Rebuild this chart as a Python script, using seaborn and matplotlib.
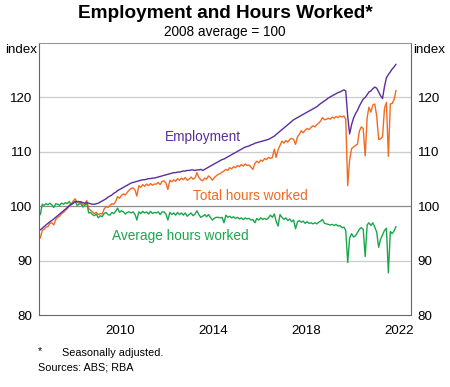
import numpy as np
import pandas as pd
import matplotlib
matplotlib.use("Agg")
import matplotlib.pyplot as plt
import matplotlib.dates as mdates
import seaborn as sns

# Monthly data, Jan 2007 - May 2022 (index, 2008 average = 100)
employment = [
    95.7, 96.0, 96.3, 96.6, 96.9, 97.2, 97.4, 97.7, 98.0, 98.3, 98.6, 98.9,
    99.2, 99.5, 99.8, 100.1, 100.4, 100.6, 100.8, 100.9, 100.9, 100.8, 100.7, 100.6,
    100.7, 100.6, 100.5, 100.4, 100.4, 100.5, 100.6, 100.8, 101.0, 101.2, 101.4, 101.7,
    101.9, 102.1, 102.4, 102.6, 102.9, 103.1, 103.3, 103.5, 103.7, 103.9, 104.1, 104.3,
    104.4, 104.5, 104.6, 104.7, 104.8, 104.9, 104.9, 105.0, 105.1, 105.1, 105.2, 105.2,
    105.3, 105.4, 105.5, 105.6, 105.7, 105.8, 105.9, 106.0, 106.1, 106.2, 106.2, 106.3,
    106.3, 106.4, 106.5, 106.5, 106.6, 106.6, 106.7, 106.7, 106.6, 106.7, 106.7, 106.8,
    106.6, 106.8, 107.0, 107.2, 107.4, 107.6, 107.8, 108.0, 108.2, 108.4, 108.6, 108.7,
    108.9, 109.1, 109.3, 109.5, 109.7, 109.9, 110.1, 110.3, 110.5, 110.7, 110.9, 111.0,
    111.1, 111.3, 111.4, 111.6, 111.7, 111.8, 111.9, 112.0, 112.1, 112.2, 112.3, 112.5,
    112.7, 112.9, 113.2, 113.5, 113.8, 114.1, 114.4, 114.7, 115.0, 115.3, 115.6, 115.9,
    116.1, 116.3, 116.5, 116.7, 116.9, 117.1, 117.3, 117.5, 117.7, 117.9, 118.1, 118.3,
    118.6, 118.9, 119.1, 119.4, 119.6, 119.9, 120.1, 120.3, 120.5, 120.7, 120.9, 121.0,
    121.2, 121.4, 121.2, 116.5, 113.3, 115.0, 116.2, 117.0, 117.6, 118.4, 119.1, 119.7,
    120.0, 120.5, 121.0, 121.2, 121.6, 121.9, 121.7, 121.0, 120.3, 119.8, 122.0, 123.6,
    124.2, 124.7, 125.2, 125.6, 126.1,
]
total_hours = [
    94.2, 95.6, 95.8, 96.2, 96.3, 96.9, 97.0, 96.6, 97.6, 98.0, 98.2, 98.7,
    98.9, 99.3, 99.6, 100.2, 100.4, 101.0, 101.4, 100.8, 100.6, 100.9, 100.3, 100.5,
    101.1, 99.6, 99.3, 99.0, 98.7, 98.9, 98.5, 98.7, 98.6, 99.5, 100.0, 99.8,
    100.2, 100.5, 100.4, 100.9, 101.8, 101.5, 102.0, 102.3, 102.1, 102.6, 103.0, 103.3,
    103.4, 103.0, 101.9, 103.8, 103.5, 104.0, 103.7, 104.1, 103.8, 104.2, 103.9, 104.1,
    104.1, 104.4, 104.0, 104.6, 104.7, 104.3, 103.1, 104.8, 104.5, 104.9, 104.6, 105.1,
    104.8, 105.2, 104.9, 105.3, 104.8, 105.0, 105.4, 105.0, 105.2, 106.2, 105.3, 104.9,
    104.7, 105.2, 105.0, 105.6, 105.3, 104.8, 105.3, 105.6, 105.9, 106.0, 106.3, 106.5,
    106.8, 106.6, 107.1, 106.9, 107.3, 107.1, 107.5, 107.3, 107.7, 107.4, 107.8, 107.5,
    107.6, 107.2, 106.8, 107.9, 108.3, 108.0, 108.5, 108.3, 108.8, 108.6, 109.0, 108.8,
    109.0, 110.5, 109.0, 110.4, 111.2, 112.0, 111.6, 112.1, 111.8, 112.3, 112.5, 112.3,
    111.4, 112.8, 113.2, 113.9, 113.5, 114.0, 114.3, 114.1, 114.5, 114.8, 114.6, 115.0,
    115.3, 115.7, 116.3, 115.9, 116.0, 116.2, 116.0, 116.4, 116.2, 116.5, 116.3, 116.6,
    116.4, 116.6, 116.0, 103.8, 108.5, 110.6, 110.9, 111.2, 111.4, 113.8, 114.6, 114.3,
    109.3, 116.3, 118.2, 117.3, 118.6, 118.8, 116.6, 112.3, 112.4, 112.8, 118.0, 119.1,
    109.2, 118.8, 118.9, 119.6, 121.3,
]
avg_hours = [
    98.5, 100.4, 100.2, 100.5, 100.3, 100.6, 100.3, 99.8, 100.5, 100.4, 100.2, 100.6,
    100.4, 100.7, 100.5, 100.9, 100.3, 100.6, 101.0, 100.2, 100.4, 100.5, 99.9, 100.2,
    100.6, 98.8, 98.9, 98.5, 98.3, 98.6, 97.9, 98.3, 98.1, 98.7, 98.9, 98.5,
    98.4, 98.9, 98.7, 99.1, 99.7, 98.9, 99.2, 99.0, 98.6, 98.9, 99.0, 98.8,
    99.0, 98.5, 97.5, 99.0, 98.7, 99.1, 98.8, 99.0, 98.6, 99.1, 98.7, 98.9,
    98.8, 99.0, 98.5, 99.0, 99.0, 98.6, 97.5, 98.9, 98.5, 98.8, 98.4, 98.9,
    98.5, 98.8, 98.4, 98.8, 98.2, 98.5, 98.8, 98.3, 98.6, 99.2, 98.5, 98.0,
    98.2, 98.5, 98.1, 98.5, 98.0, 97.5, 97.8, 98.0, 98.0, 97.9, 98.0, 97.0,
    98.4, 98.0, 98.2, 97.9, 98.1, 97.8, 98.0, 97.7, 97.9, 97.6, 97.9, 97.7,
    97.8, 97.5, 97.6, 97.0, 97.8, 97.5, 97.9, 97.6, 97.8, 97.6, 97.9, 98.4,
    98.0, 98.6, 97.3, 96.4, 98.5, 98.0, 97.6, 97.9, 97.4, 97.7, 97.2, 97.5,
    95.9, 97.2, 97.4, 97.1, 97.3, 96.9, 97.2, 96.9, 97.0, 96.8, 97.0, 96.8,
    97.1, 97.3, 97.6, 96.9, 96.8, 96.7, 96.6, 96.7, 96.5, 96.7, 96.4, 96.5,
    96.1, 96.2, 95.6, 89.7, 94.2, 95.0, 94.4, 94.6, 95.2, 95.8, 96.1, 95.8,
    90.8, 96.6, 97.0, 96.5, 97.0, 96.2, 95.3, 92.5, 94.0, 94.8, 95.6, 96.0,
    87.8, 95.4, 95.0, 95.5, 96.3,
]
yticks = [80, 90, 100, 110, 120]
xlabels = [2010, 2014, 2018, 2022]

dates = pd.date_range("2007-01-01", periods=len(employment), freq="MS") + pd.Timedelta(days=14)
df = pd.DataFrame({"date": dates, "Employment": employment,
                   "Total hours worked": total_hours,
                   "Average hours worked": avg_hours})

sns.set_style("white")
plt.rcParams["font.family"] = ["Liberation Sans", "DejaVu Sans"]
plt.rcParams["text.color"] = "black"
plt.rcParams["xtick.color"] = "black"
plt.rcParams["ytick.color"] = "black"

purple = "#5b2d9e"
orange = "#f26a21"
green = "#1aa64b"

fig = plt.figure(figsize=(4.5, 3.87), dpi=100)
ax = fig.add_axes([0.0876, 0.185, 0.825, 0.704])

for ref, c in [(90, "#cccccc"), (110, "#cccccc"), (120, "#cccccc"), (100, "#8c8c8c")]:
    ax.axhline(ref, color=c, lw=0.9, zorder=1)

sns.lineplot(data=df, x="date", y="Employment", color=purple, lw=1.0, ax=ax, zorder=3)
sns.lineplot(data=df, x="date", y="Total hours worked", color=orange, lw=1.0, ax=ax, zorder=2)
sns.lineplot(data=df, x="date", y="Average hours worked", color=green, lw=1.0, ax=ax, zorder=2)

ax.set_xlim(pd.Timestamp("2007-01-01"), pd.Timestamp("2023-01-01"))
ax.set_ylim(80, 130)
ax.set_xlabel("")
ax.set_ylabel("")

ax.set_yticks(yticks)
ax.set_yticklabels([str(v) for v in yticks])
ax.tick_params(axis="y", left=False, right=False, labelleft=True, labelright=True,
               labelsize=9.6, pad=1.5, labelcolor="black")

ax.xaxis.set_minor_locator(mdates.YearLocator(1))
ax.set_xticks([pd.Timestamp(f"{y}-07-01") for y in xlabels])
ax.set_xticklabels([str(y) for y in xlabels])
ax.tick_params(axis="x", which="major", length=0, labelsize=9.6, pad=7, labelcolor="black")
ax.tick_params(axis="x", which="minor", direction="in", length=5, width=0.8, color="#555555")

for s in ax.spines.values():
    s.set_color("#666666")
    s.set_linewidth(0.8)
ax.spines["top"].set_color("#999999")

ax.text(pd.Timestamp("2014-01-20"), 112.7, "Employment", color=purple, fontsize=9.8,
        ha="center", va="center")
ax.text(pd.Timestamp("2016-02-01"), 102.0, "Total hours worked", color=orange, fontsize=9.8,
        ha="center", va="center")
ax.text(pd.Timestamp("2013-01-20"), 94.5, "Average hours worked", color=green, fontsize=9.8,
        ha="center", va="center")

fig.text(0.5, 1 - 13 / 387, "Employment and Hours Worked*", ha="center", va="center",
         fontsize=13.7, fontweight="bold", color="black")
fig.text(0.5, 1 - 32 / 387, "2008 average = 100", ha="center", va="center", fontsize=9.8)
fig.text(37 / 450, 1 - 50 / 387, "index", ha="right", va="center", fontsize=9.6)
fig.text(413 / 450, 1 - 50 / 387, "index", ha="left", va="center", fontsize=9.6)
fig.text(38 / 450, 1 - 351 / 387, "*", ha="left", va="center", fontsize=7.8)
fig.text(62.5 / 450, 1 - 352.5 / 387, "Seasonally adjusted.", ha="left", va="center", fontsize=7.8)
fig.text(38.5 / 450, 1 - 368 / 387, "Sources: ABS; RBA", ha="left", va="center", fontsize=7.8)

fig.savefig("out.png", dpi=100)
